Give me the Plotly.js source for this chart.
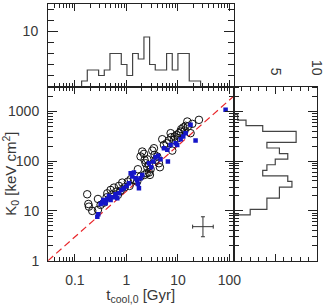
<!DOCTYPE html>
<html>
<head>
<meta charset="utf-8">
<script src="https://cdn.plot.ly/plotly-3.0.1.min.js"></script>
<style>
  html, body { margin: 0; padding: 0; background: #fff; }
  #chart { width: 324px; height: 305px; }
</style>
</head>
<body>
<div id="chart"></div>
<script>
// Central entropy K0 versus central cooling time, with marginal histograms.

// Open circles: cooling time [Gyr] and central entropy [keV cm^2]
const circleT = [0.173, 0.182, 0.187, 0.217, 0.280, 0.280, 0.425, 0.493, 0.516, 0.572,
                 0.635, 0.715, 0.770, 0.684, 0.830, 0.921, 1.07, 1.15, 1.21, 1.40,
                 1.62, 1.88, 2.25, 2.74, 0.315, 0.366, 0.412,
                 1.67, 1.88, 2.03, 2.19, 2.25, 2.36, 2.54, 2.54, 2.74, 2.95,
                 2.47, 2.86, 3.18, 3.42, 3.52, 3.68, 3.97, 4.28, 4.47,
                 4.96, 5.35, 6.03, 6.69, 7.21, 7.43, 7.76, 8.36, 8.61, 9.42,
                 10.0, 10.5, 11.3, 11.6, 12.7, 13.5, 14.1, 15.2, 15.6, 17.6, 19.0, 25.6];
const circleK = [21.6, 13.8, 12.2, 10.0, 10.5, 17.4, 22.6, 26.4, 21.0, 29.4,
                 24.5, 31.8, 25.6, 21.0, 37.1, 29.9, 38.9, 31.8, 43.3, 42.0,
                 38.9, 49.0, 52.9, 59.0, 13.2, 14.7, 18.8,
                 68.8, 124, 156, 140, 106, 90.8, 109, 75.5, 84.1, 68.8,
                 57.2, 52.9, 163, 182, 134, 106, 124, 90.8, 75.5,
                 276, 212, 229, 260, 365, 303, 163, 268, 313, 338,
                 289, 365, 394, 439, 475, 413, 513, 626, 497, 365, 562, 676];

// Filled squares
const squareT = [0.272, 0.284, 0.315, 0.340, 0.355, 0.394, 0.425, 0.457, 0.493, 0.555,
                 0.616, 0.664, 0.715, 0.794, 0.894, 1.01, 1.12, 1.21, 1.30, 1.40,
                 1.51, 1.62, 1.67, 1.75, 1.88, 2.03, 2.74, 3.03, 3.32, 3.68,
                 4.09, 4.60, 5.35, 6.39, 6.21, 7.21, 9.02, 9.70, 11.3, 12.7,
                 14.1, 17.6, 22.0, 84.3];
const squareK = [7.68, 8.56, 13.8, 14.7, 16.6, 14.3, 17.1, 20.0, 16.6, 18.8,
                 21.6, 18.0, 22.6, 26.4, 28.5, 31.8, 36.0, 57.2, 49.0, 59.0,
                 45.4, 42.0, 34.9, 28.5, 45.4, 52.9, 90.8, 75.5, 98.2, 120,
                 128, 109, 182, 98.2, 169, 212, 229, 212, 276, 313,
                 365, 537, 260, 1076];

// Dashed reference relation (end points)
const lineT = [0.03, 120];
const lineK = [1.0, 2000];

// Typical uncertainty cross
const errT = [30.6], errTplus = [17.9], errTminus = [11.3];
const errK = [4.83], errKplus = [2.8], errKminus = [1.8];

// Histogram of log10(t_cool,0): bin edges and counts
const tBinEdgesLog = [-0.87, -0.76, -0.65, -0.54, -0.43, -0.32, -0.21, -0.10, 0.01, 0.12, 0.23,
                      0.34, 0.45, 0.56, 0.67, 0.78, 0.89, 1.00, 1.11, 1.22, 1.33, 1.44];
const tCounts = [1, 3, 3, 2, 3, 6, 6, 4, 2, 6, 5, 9, 4, 3, 3, 6, 3, 6, 6, 1, 1];

// Histogram of log10(K0): bin edges and counts
const kBinEdgesLog = [0.920, 1.032, 1.144, 1.256, 1.368, 1.480, 1.592, 1.704, 1.816, 1.928,
                      2.040, 2.152, 2.264, 2.376, 2.488, 2.600, 2.712, 2.824, 2.936];
const kCounts = [2, 4, 4, 5.5, 5.5, 7, 6.5, 3.5, 4, 5, 6.5, 5.5, 4, 7.5, 7.5, 3.5, 1.5, 0.5];

// Tick labels
const xTickVals = [0.1, 1, 10, 100];
const xTickText = ['0.1', '1', '10', '100'];
const yTickVals = [1, 10, 100, 1000];
const yTickText = ['1', '10', '100', '1000'];
const histTickVals = [10];
const histTickText = ['10'];
const countTickVals = [5, 10];
const countTickText = ['5', '10'];

// Minor tick positions 2..9 within each decade, clipped to the range
function logMinor(lo, hi) {
  const out = [];
  for (let d = Math.floor(Math.log10(lo)); d <= Math.ceil(Math.log10(hi)); d++) {
    for (let m = 2; m <= 9; m++) {
      const v = m * Math.pow(10, d);
      if (v > lo && v < hi) out.push(v);
    }
  }
  return out;
}

// Step outline for a horizontal histogram (counts vs. x)
function stepX(edgesLog, counts) {
  const xs = [Math.pow(10, edgesLog[0])], ys = [0];
  for (let i = 0; i < counts.length; i++) {
    xs.push(Math.pow(10, edgesLog[i])); ys.push(counts[i]);
  }
  xs.push(Math.pow(10, edgesLog[edgesLog.length - 1])); ys.push(0);
  return {xs, ys};
}
// Step outline for a vertical histogram (counts vs. y)
function stepY(edgesLog, counts) {
  const xs = [0], ys = [Math.pow(10, edgesLog[0])];
  for (let i = 0; i < counts.length; i++) {
    xs.push(counts[i]); ys.push(Math.pow(10, edgesLog[i]));
  }
  xs.push(0); ys.push(Math.pow(10, edgesLog[edgesLog.length - 1]));
  return {xs, ys};
}

const xRange = [0.03, 120];
const yRange = [1, 3162];
const ink = '#222';
const histInk = '#444';

const topStep = stepX(tBinEdgesLog, tCounts);
const sideStep = stepY(kBinEdgesLog, kCounts);

const traces = [
  { x: lineT, y: lineK, mode: 'lines', xaxis: 'x', yaxis: 'y',
    line: {color: '#e8262a', width: 1.2, dash: '7px,4px'}, hoverinfo: 'skip' },
  { x: circleT, y: circleK, mode: 'markers', xaxis: 'x', yaxis: 'y',
    marker: {symbol: 'circle-open', size: 7.5, color: '#111', line: {width: 1, color: '#111'}} },
  { x: squareT, y: squareK, mode: 'markers', xaxis: 'x', yaxis: 'y',
    marker: {symbol: 'square', size: 4.5, color: '#1515c8'} },
  { x: errT, y: errK, mode: 'markers', xaxis: 'x', yaxis: 'y',
    marker: {size: 1, color: 'rgba(0,0,0,0)'},
    error_x: {type: 'data', symmetric: false, array: errTplus, arrayminus: errTminus,
              color: '#333', thickness: 1, width: 2},
    error_y: {type: 'data', symmetric: false, array: errKplus, arrayminus: errKminus,
              color: '#333', thickness: 1, width: 2} },
  { x: topStep.xs, y: topStep.ys, mode: 'lines', xaxis: 'x2', yaxis: 'y2',
    line: {shape: 'hv', color: histInk, width: 1.2} },
  { x: sideStep.xs, y: sideStep.ys, mode: 'lines', xaxis: 'x3', yaxis: 'y3',
    line: {shape: 'vh', color: histInk, width: 1.2} }
];

const W = 324, H = 305;
const left = 48, right = 233.5, mainTop = 86.5, mainBottom = 260.7, topTop = 4, sideRight = 317;
const xDom = [left / W, right / W];
const yDom = [1 - mainBottom / H, 1 - mainTop / H];

function frame(extra) {
  return Object.assign({
    showline: true, linecolor: ink, linewidth: 1, mirror: 'allticks',
    ticks: 'inside', tickcolor: ink, tickwidth: 1,
    showgrid: false, zeroline: false, fixedrange: true,
    ticklabeloverflow: 'allow'
  }, extra);
}

const layout = {
  width: W, height: H,
  margin: {l: 0, r: 0, t: 0, b: 0},
  paper_bgcolor: '#fff', plot_bgcolor: '#fff',
  showlegend: false,
  font: {family: 'Liberation Sans, Arial, sans-serif', size: 14, color: '#383838'},
  xaxis: frame({
    type: 'log', range: xRange.map(Math.log10), domain: xDom, anchor: 'y',
    tickmode: 'array', tickvals: xTickVals, ticktext: xTickText, ticklen: 7,
    ticklabelstandoff: 6,
    minor: {tickmode: 'array', tickvals: logMinor(xRange[0], xRange[1]), ticks: 'inside', ticklen: 4, tickcolor: ink, showgrid: false},
    title: {text: 't<sub>cool,0</sub> [Gyr]', font: {size: 15, color: '#383838'}, standoff: 5}
  }),
  yaxis: frame({
    type: 'log', range: yRange.map(Math.log10), domain: yDom, anchor: 'x',
    tickmode: 'array', tickvals: yTickVals, ticktext: yTickText, ticklen: 9,
    ticklabelstandoff: 5,
    minor: {tickmode: 'array', tickvals: logMinor(yRange[0], yRange[1]), ticks: 'inside', ticklen: 5, tickcolor: ink, showgrid: false},
    title: {text: 'K<sub>0</sub> [keV cm<sup>2</sup>]', font: {size: 15, color: '#383838'}, standoff: 6}
  }),
  xaxis2: frame({
    type: 'log', range: xRange.map(Math.log10), domain: xDom, anchor: 'y2',
    tickmode: 'array', tickvals: xTickVals, showticklabels: false, ticklen: 7,
    minor: {tickmode: 'array', tickvals: logMinor(xRange[0], xRange[1]), ticks: 'inside', ticklen: 4, tickcolor: ink, showgrid: false}
  }),
  yaxis2: frame({
    range: [0, 15], domain: [1 - mainTop / H, 1 - topTop / H], anchor: 'x2',
    tickmode: 'array', tickvals: histTickVals, ticktext: histTickText, ticklen: 10,
    ticklabelstandoff: 6,
    minor: {tickmode: 'array', tickvals: [2, 4, 6, 8, 12, 14], ticks: 'inside', ticklen: 6, tickcolor: ink, showgrid: false}
  }),
  xaxis3: frame({
    range: [0, 10.001], domain: [right / W, sideRight / W], anchor: 'y3', side: 'top',
    tickmode: 'array', tickvals: countTickVals, ticktext: countTickText, ticklen: 7,
    tickangle: 90, ticklabelstandoff: 5,
    minor: {tickmode: 'array', tickvals: [1, 2, 3, 4, 6, 7, 8, 9], ticks: 'inside', ticklen: 4, tickcolor: ink, showgrid: false}
  }),
  yaxis3: frame({
    type: 'log', range: yRange.map(Math.log10), domain: yDom, anchor: 'x3',
    tickmode: 'array', tickvals: yTickVals, showticklabels: false, ticklen: 9,
    minor: {tickmode: 'array', tickvals: logMinor(yRange[0], yRange[1]), ticks: 'inside', ticklen: 5, tickcolor: ink, showgrid: false}
  })
};

Plotly.newPlot('chart', traces, layout, {staticPlot: true, displayModeBar: false});
</script>
</body>
</html>
